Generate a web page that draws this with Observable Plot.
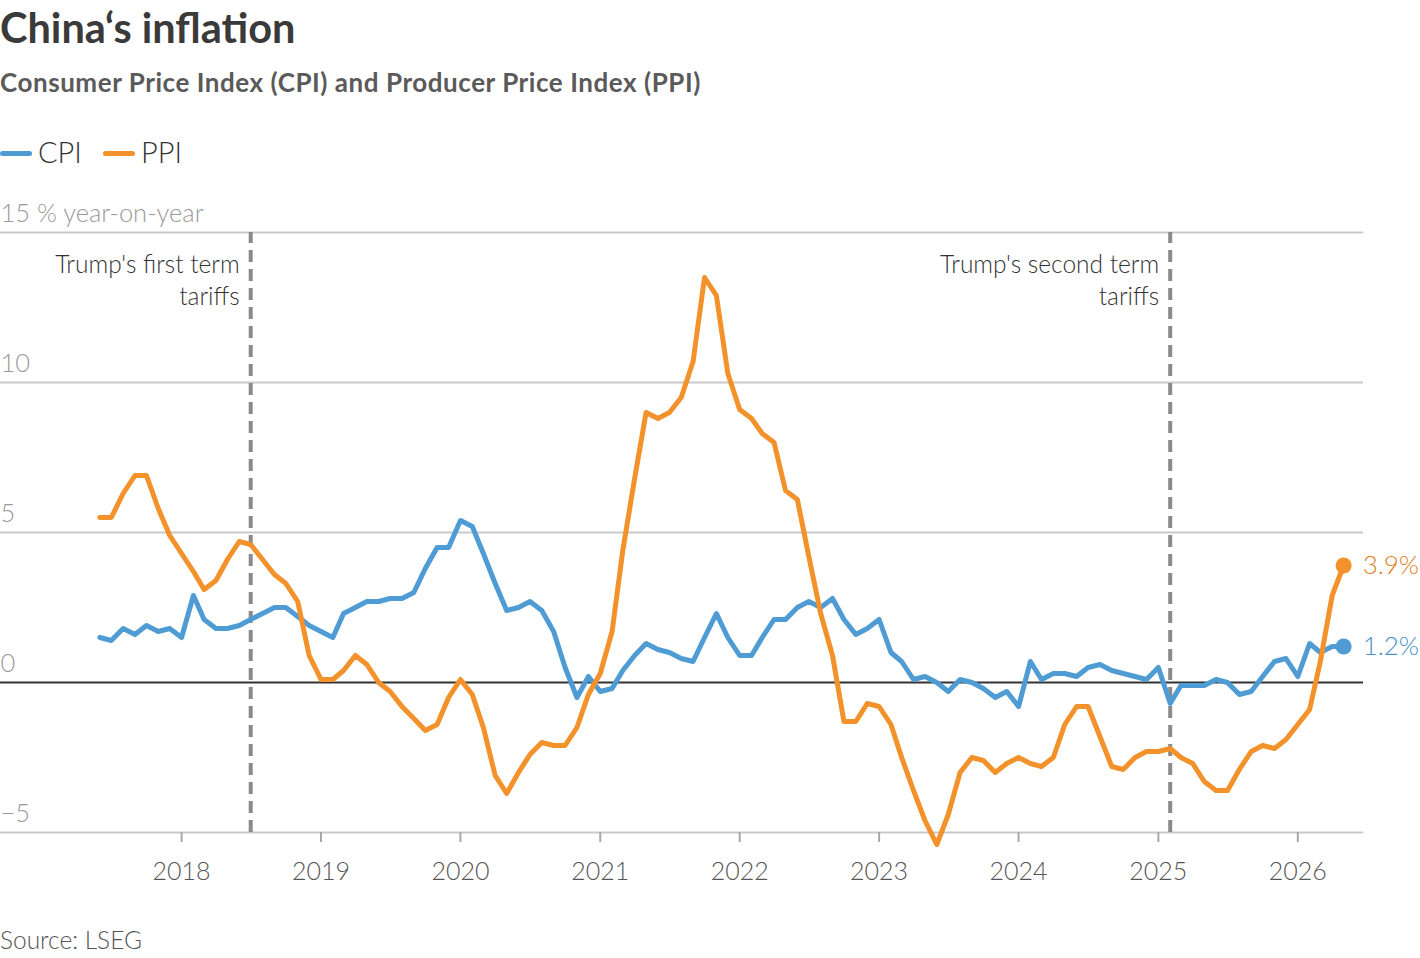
<!DOCTYPE html>
<html><head><meta charset="utf-8">
<script src="https://cdn.jsdelivr.net/npm/d3@7"></script>
<script src="https://cdn.jsdelivr.net/npm/@observablehq/plot@0.6"></script>
<style>
body{margin:0;background:#fff;font-family:Lato,"Open Sans",sans-serif;}
#wrap{position:relative;width:1420px;height:958px;overflow:hidden;background:#fff}
.title{position:absolute;left:0;top:7px;font-size:41.5px;line-height:1;font-weight:700;color:#3a3a3a;white-space:nowrap}
.subtitle{position:absolute;left:0;top:69px;font-size:26px;line-height:1;font-weight:700;color:#5a5a5a;white-space:nowrap;letter-spacing:0.55px}
.legend{position:absolute;left:0;top:137px;font-size:29px;line-height:1;font-weight:300;color:#333;white-space:nowrap}
.legend span.sw{display:inline-block;width:32px;height:5px;border-radius:3px;vertical-align:middle;margin-right:6px;position:relative;top:-2px}
.legend span.item{margin-right:21px}
.source{position:absolute;left:0;top:928px;font-size:24.5px;line-height:1;font-weight:300;color:#555;white-space:nowrap}
#chart{position:absolute;left:0;top:180px}
</style></head>
<body><div id="wrap">
<div class="title">China‘s inflation</div>
<div class="subtitle">Consumer Price Index (CPI) and Producer Price Index (PPI)</div>
<div class="legend" id="legend"></div>
<div id="chart"></div>
<div class="source">Source: LSEG</div>
</div>
<script>
// ---- data ----
const seriesNames = ["CPI", "PPI"];
const seriesColors = ["#4f9bd4", "#f3912a"];
const labelColors = ["#4a8fc8", "#dc8128"];
const startMonth = "2017-06";
// monthly year-on-year % change, Jun 2017 .. May 2026
const cpi = [
  1.5, 1.4, 1.8, 1.6, 1.9, 1.7, 1.8,
  1.5, 2.9, 2.1, 1.8, 1.8, 1.9, 2.1, 2.3, 2.5, 2.5, 2.2, 1.9,
  1.7, 1.5, 2.3, 2.5, 2.7, 2.7, 2.8, 2.8, 3.0, 3.8, 4.5, 4.5,
  5.4, 5.2, 4.3, 3.3, 2.4, 2.5, 2.7, 2.4, 1.7, 0.5, -0.5, 0.2,
  -0.3, -0.2, 0.4, 0.9, 1.3, 1.1, 1.0, 0.8, 0.7, 1.5, 2.3, 1.5,
  0.9, 0.9, 1.5, 2.1, 2.1, 2.5, 2.7, 2.5, 2.8, 2.1, 1.6, 1.8,
  2.1, 1.0, 0.7, 0.1, 0.2, 0.0, -0.3, 0.1, 0.0, -0.2, -0.5, -0.3,
  -0.8, 0.7, 0.1, 0.3, 0.3, 0.2, 0.5, 0.6, 0.4, 0.3, 0.2, 0.1,
  0.5, -0.7, -0.1, -0.1, -0.1, 0.1, 0.0, -0.4, -0.3, 0.2, 0.7, 0.8,
  0.2, 1.3, 1.0, 1.2, 1.2
];
const ppi = [
  5.5, 5.5, 6.3, 6.9, 6.9, 5.8, 4.9,
  4.3, 3.7, 3.1, 3.4, 4.1, 4.7, 4.6, 4.1, 3.6, 3.3, 2.7, 0.9,
  0.1, 0.1, 0.4, 0.9, 0.6, 0.0, -0.3, -0.8, -1.2, -1.6, -1.4, -0.5,
  0.1, -0.4, -1.5, -3.1, -3.7, -3.0, -2.4, -2.0, -2.1, -2.1, -1.5, -0.4,
  0.3, 1.7, 4.4, 6.8, 9.0, 8.8, 9.0, 9.5, 10.7, 13.5, 12.9, 10.3,
  9.1, 8.8, 8.3, 8.0, 6.4, 6.1, 4.2, 2.3, 0.9, -1.3, -1.3, -0.7,
  -0.8, -1.4, -2.5, -3.6, -4.6, -5.4, -4.4, -3.0, -2.5, -2.6, -3.0, -2.7,
  -2.5, -2.7, -2.8, -2.5, -1.4, -0.8, -0.8, -1.8, -2.8, -2.9, -2.5, -2.3,
  -2.3, -2.2, -2.5, -2.7, -3.3, -3.6, -3.6, -2.9, -2.3, -2.1, -2.2, -1.9,
  -1.4, -0.9, 0.7, 2.9, 3.9
];
const yTicks = [-5, 0, 5, 10, 15];
const xTickYears = [2018, 2019, 2020, 2021, 2022, 2023, 2024, 2025, 2026];
const tariffDates = ["2018-07-01", "2025-02-01"];
const tariffLabels = ["Trump's first term\ntariffs", "Trump's second term\ntariffs"];
const xDomain = ["2016-09-14", "2026-06-22"];

// ---- build ----
const parse = d3.utcParse("%Y-%m");
const months = d3.utcMonth.range(parse(startMonth), d3.utcMonth.offset(parse(startMonth), cpi.length));
const rows = [];
months.forEach((d, i) => {
  rows.push({date: d, value: cpi[i], series: "CPI"});
  rows.push({date: d, value: ppi[i], series: "PPI"});
});
const last = seriesNames.map(s => rows.filter(r => r.series === s).at(-1));
const annotations = tariffDates.map((d, i) => ({date: new Date(d), label: tariffLabels[i]}));

// legend
const lg = document.getElementById("legend");
lg.innerHTML = seriesNames.map((s, i) =>
  `<span class="item"><span class="sw" style="background:${seriesColors[i]}"></span>${s}</span>`).join("");

const chart = Plot.plot({
  width: 1420,
  height: 720,
  marginLeft: 0,
  marginRight: 57,
  marginTop: 52,
  marginBottom: 68,
  style: {fontFamily: "Lato, 'Open Sans', sans-serif", background: "transparent", overflow: "visible"},
  x: {type: "utc", domain: xDomain.map(d => new Date(d))},
  y: {domain: [-5, 15]},
  color: {domain: seriesNames, range: seriesColors},
  marks: [
    Plot.gridY([-5, 5, 10, 15], {stroke: "#c9c9c9", strokeOpacity: 1, strokeWidth: 2}),
    Plot.axisY(yTicks, {
      anchor: "left", tickSize: 0, tickPadding: 0, textAnchor: "start", dy: -19,
      fontSize: 25.5, fontWeight: 300, fill: "#9a9a9a", label: null,
      tickFormat: d => d === 15 ? "15 % year-on-year" : (d < 0 ? "\u2212" + Math.abs(d) : String(d))
    }),
    Plot.axisX(xTickYears.map(y => new Date(Date.UTC(y, 0, 1))), {
      anchor: "bottom", tickSize: 10, tickPadding: 20, tickFormat: d3.utcFormat("%Y"),
      fontSize: 25, fontWeight: 300, fill: "#555", stroke: "#a8a8a8", strokeWidth: 2, label: null
    }),
    Plot.ruleY([0], {stroke: "#333", strokeWidth: 2}),
    Plot.ruleX(annotations, {x: "date", y1: -5, y2: 15, stroke: "#8a8a8a", strokeWidth: 4, strokeDasharray: "12,7"}),
    Plot.text(annotations, {
      x: "date", y: 15, text: "label", textAnchor: "end", lineAnchor: "top", dx: -11, dy: 18,
      lineHeight: 1.3, fontSize: 24.5, fontWeight: 300, fill: "#333"
    }),
    Plot.line(rows, {x: "date", y: "value", stroke: "series", strokeWidth: 5, strokeLinejoin: "round", strokeLinecap: "round"}),
    Plot.dot(last, {x: "date", y: "value", fill: "series", r: 8}),
    Plot.text(last, {
      x: "date", y: "value", text: d => d.value.toFixed(1) + "%",
      fill: d => labelColors[seriesNames.indexOf(d.series)],
      textAnchor: "start", dx: 19, fontSize: 26, fontWeight: 300
    })
  ]
});
document.getElementById("chart").appendChild(chart);
</script>
</body></html>
